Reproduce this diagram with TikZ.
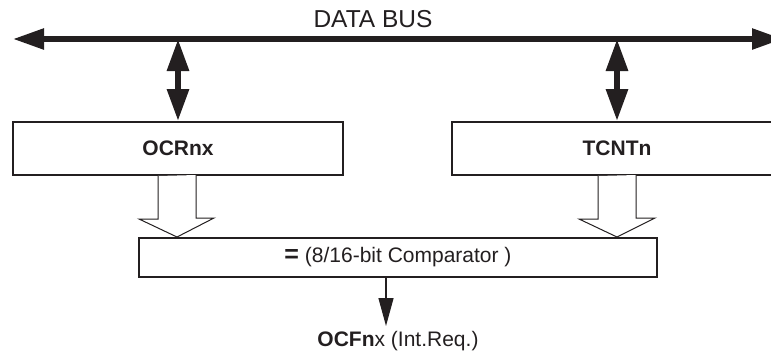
\documentclass[tikz,border=0pt]{standalone}
\usepackage{fontspec}
\setmainfont{Liberation Sans}
\usetikzlibrary{arrows.meta,calc}
\definecolor{ink}{HTML}{231F20}
\tikzset{
  regbox/.style={draw=ink, line width=2pt, minimum height=53pt, minimum width=330pt, inner sep=0pt, font=\fontsize{21}{24}\selectfont\bfseries, text=ink},
  cmpbox/.style={draw=ink, line width=2pt, minimum height=39pt, minimum width=518pt, inner sep=0pt, font=\fontsize{21}{24}\selectfont, text=ink},
  busline/.style={draw=ink, line width=5.5pt, {Triangle[length=31pt,width=20pt]}-{Triangle[length=31pt,width=20pt]}},
  dblarrow/.style={draw=ink, line width=6pt, {Triangle[length=32pt,width=21pt]}-{Triangle[length=32pt,width=21pt]}},
  hollow/.style={draw=ink, line width=1pt, fill=white},
  outarrow/.style={draw=ink, line width=1.3pt, -{Triangle[length=28pt,width=15pt]}},
  lbl/.style={text=ink, inner sep=0pt}
}
\begin{document}
\begin{tikzpicture}[x=1pt,y=-1pt]
\useasboundingbox (0,0) rectangle (771,354);
% data bus
\coordinate (busL) at (13,39);
\coordinate (busR) at (783,39);
\draw[busline] (busL) -- (busR);
\node[lbl, font=\fontsize{24.5}{28}\selectfont] (busname) at (373,19) {DATA BUS};
% registers
\node[regbox] (ocr) at (178,148.5) {OCRnx};
\node[regbox] (tcnt) at (617,148.5) {TCNTn};
% bidirectional connections
\draw[dblarrow] (ocr.north |- busL) -- (ocr.north);
\draw[dblarrow] (tcnt.north |- busL) -- (tcnt.north);
% comparator
\node[cmpbox] (cmp) at (398,257.5) {{\bfseries\fontsize{25}{24}\selectfont =} (8/16-bit Comparator )};
% hollow arrows
\draw[hollow] ($(ocr.south)+(-20,0)$) -- ++(0,43) -- ++(-19,0) -- ($(ocr.south |- cmp.north)+(-1,0)$) -- ++(37,-19) -- ++(-18,0) -- ++(0,-43);
\draw[hollow] ($(tcnt.south)+(-19,0)$) -- ++(0,43) -- ++(-19,0) -- (tcnt.south |- cmp.north) -- ++(38,-19) -- ++(-19,0) -- ++(0,-43);
% output
\coordinate (o1) at ([xshift=-12pt]cmp.south);
\node[lbl, font=\fontsize{21}{24}\selectfont, anchor=base] (ocf) at (398,346) {\textbf{OCFn}x (Int.Req.)};
\coordinate (o2) at (386,326);
\draw[outarrow] (o1) -- (o2);
\end{tikzpicture}
\end{document}
